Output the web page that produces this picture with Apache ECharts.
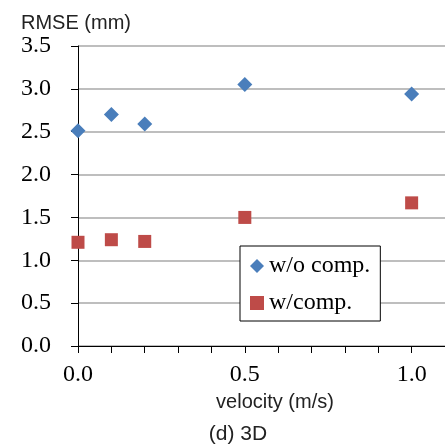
<!DOCTYPE html>
<html>
<head>
<meta charset="utf-8">
<script src="https://cdn.jsdelivr.net/npm/echarts@6/dist/echarts.min.js"></script>
<style>
  html, body { margin: 0; padding: 0; background: #fff; }
  #chart { width: 445px; height: 448px; }
</style>
</head>
<body>
<div id="chart"></div>
<script>
// data
const velocity = [0.0, 0.1, 0.2, 0.5, 1.0];
const rmseNoComp = [2.51, 2.70, 2.59, 3.05, 2.94];
const rmseComp = [1.21, 1.24, 1.22, 1.50, 1.67];
const seriesNames = ['w/o comp.', 'w/comp.'];

const serif = 'Liberation Serif';
const sans = 'Liberation Sans';

const myChart = echarts.init(document.getElementById('chart'));

const pairs = (xs, ys) => xs.map((x, i) => [x, ys[i]]);

const option = {
    animation: false,
    backgroundColor: '#fff',
    grid: {
        left: 78,
        right: -3,
        top: 46,
        bottom: 102
    },
    xAxis: {
        type: 'value',
        min: 0,
        max: 1.1,
        interval: 0.1,
        axisLine: { lineStyle: { color: '#000', width: 1 } },
        axisTick: { show: true, inside: false, length: 7, lineStyle: { color: '#000' } },
        splitLine: { show: false },
        axisLabel: {
            margin: 17,
            fontFamily: serif,
            fontSize: 24,
            color: '#000',
            showMaxLabel: false,
            formatter: v => (Math.abs(v * 2 - Math.round(v * 2)) < 1e-6 ? v.toFixed(1) : '')
        }
    },
    yAxis: {
        type: 'value',
        min: 0,
        max: 3.5,
        interval: 0.5,
        axisLine: { show: true, lineStyle: { color: '#000', width: 1 } },
        axisTick: { show: true, inside: false, length: 7, lineStyle: { color: '#000' } },
        splitLine: { show: true, lineStyle: { color: '#a8a8a8', width: 1.5 } },
        axisLabel: {
            margin: 27,
            fontFamily: serif,
            fontSize: 24,
            color: '#000',
            formatter: v => v.toFixed(1)
        }
    },
    legend: {
        orient: 'vertical',
        left: 240,
        top: 246,
        padding: [8, 10, 6, 10],
        itemGap: 13,
        itemWidth: 14,
        itemHeight: 14,
        itemTextGap: 5,
        borderColor: '#000',
        borderWidth: 1,
        backgroundColor: '#fff',
        textStyle: { fontFamily: serif, fontSize: 24, color: '#000' },
        data: [
            { name: seriesNames[0], icon: 'diamond' },
            { name: seriesNames[1], icon: 'rect' }
        ]
    },
    graphic: [
        {
            type: 'text', left: 21, top: 13,
            style: { text: 'RMSE (mm)', font: '20px ' + sans, fill: '#222' }
        },
        {
            type: 'text', x: 275, y: 402,
            style: {
                text: 'velocity (m/s)', font: '20px ' + sans, fill: '#222',
                textAlign: 'center', align: 'center',
                textVerticalAlign: 'middle', verticalAlign: 'middle'
            }
        },
        {
            type: 'text', x: 238, y: 434,
            style: {
                text: '(d) 3D', font: '21px ' + sans, fill: '#222',
                textAlign: 'center', align: 'center',
                textVerticalAlign: 'middle', verticalAlign: 'middle'
            }
        }
    ],
    series: [
        {
            name: seriesNames[0],
            type: 'scatter',
            symbol: 'diamond',
            symbolSize: 15,
            itemStyle: { color: '#4a7ebb', opacity: 1 },
            data: pairs(velocity, rmseNoComp)
        },
        {
            name: seriesNames[1],
            type: 'scatter',
            symbol: 'rect',
            symbolSize: 13,
            itemStyle: { color: '#be4b48', opacity: 1 },
            data: pairs(velocity, rmseComp)
        }
    ]
};

myChart.setOption(option);
</script>
</body>
</html>
